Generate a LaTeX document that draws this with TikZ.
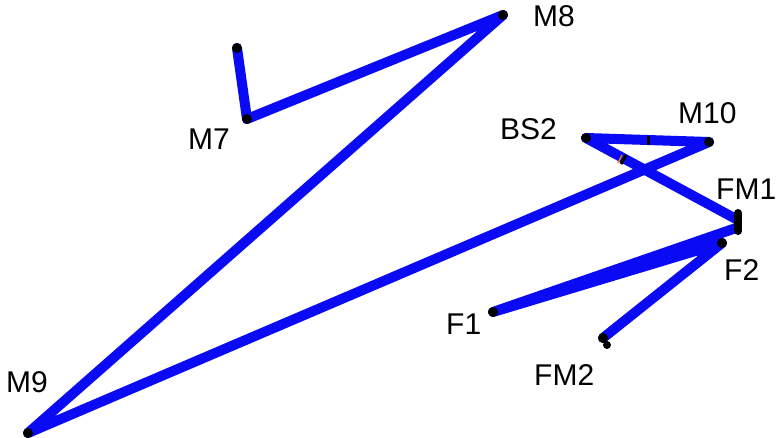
\documentclass[tikz,border=0pt]{standalone}
\usepackage{fontspec}
\setmainfont{Liberation Sans}
\definecolor{routeblue}{RGB}{10,10,245}
\definecolor{tickorange}{RGB}{230,120,30}
\begin{document}
\begin{tikzpicture}[x=1pt,y=-1pt,
  route/.style={draw=routeblue,line width=10pt,line cap=round,line join=round},
  vertex/.style={circle,fill=black,inner sep=0pt,minimum size=10pt},
  lbl/.style={anchor=base west,inner sep=0pt,font=\fontsize{30}{36}\selectfont},
  tickmark/.style={draw=black,line width=3pt}]
\useasboundingbox (0,0) rectangle (778,438);

% waypoints
\coordinate (p0)   at (237,48);
\coordinate (m7)   at (247,119);
\coordinate (m8)   at (503,15);
\coordinate (m9)   at (28,433);
\coordinate (m10)  at (709,142);
\coordinate (bs2)  at (586,138);
\coordinate (fm1a) at (736,219);
\coordinate (fm1b) at (736,228);
\coordinate (f1)   at (493,312);
\coordinate (f2)   at (722,243);
\coordinate (fm2)  at (603,338);

% route
\draw[route] (p0) -- (m7) -- (m8) -- (m9) -- (m10) -- (bs2) -- (fm1a);
\draw[route] (fm1b) -- (f1) -- (f2) -- (fm2);

% markers
\foreach \p in {p0,m7,m8,m9,m10,bs2,f1,f2,fm2}
  \node[vertex] at (\p) {};
\node[vertex,minimum size=8pt] at (607,345) {};
\draw[line width=8pt,line cap=round] (738,213) -- (738,231);
\draw[tickmark] (648,136) -- (648,145);
\draw[tickmark] (621,164) -- (626,155);
\draw[draw=tickorange,line width=1.5pt] (618,163) -- (622,155);

% labels
\node[lbl] (lm8)  at (533,27)  {M8};
\node[lbl] (lm7)  at (188,150) {M7};
\node[lbl] (lbs2) at (500,140) {BS2};
\node[lbl] (lm10) at (678,124) {M10};
\node[lbl] (lfm1) at (716,200) {FM1};
\node[lbl] (lf2)  at (724,280) {F2};
\node[lbl] (lf1)  at (446,334) {F1};
\node[lbl] (lfm2) at (534,385) {FM2};
\node[lbl] (lm9)  at (6,392)   {M9};
\end{tikzpicture}
\end{document}
